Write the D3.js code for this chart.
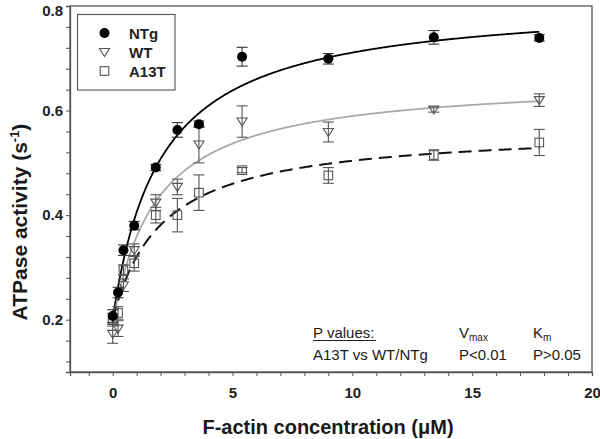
<!DOCTYPE html>
<html><head><meta charset="utf-8">
<script src="https://cdn.jsdelivr.net/npm/d3@7"></script>
<style>
html,body{margin:0;padding:0;background:#fff;}
svg{display:block;font-family:"Liberation Sans",Arial,Helvetica,sans-serif;}
</style></head>
<body><svg id="chart" width="600" height="439"></svg>
<script>
// ---- data ----
const concentrations = [0, 0.225, 0.45, 0.9, 1.8, 2.7, 3.6, 5.4, 9, 13.4, 17.8];
const seriesNames = ["NTg", "WT", "A13T"];
const ntgValues  = [0.207, 0.252, 0.333, 0.380, 0.491, 0.563, 0.574, 0.703, 0.699, 0.740, 0.739];
const ntgErrors  = [0.012, 0.010, 0.010, 0.008, 0.006, 0.014, 0.006, 0.018, 0.010, 0.013, 0.006];
const wtValues   = [0.173, 0.183, 0.266, 0.333, 0.424, 0.454, 0.535, 0.579, 0.559, 0.602, 0.620];
const wtErrors   = [0.018, 0.015, 0.012, 0.012, 0.015, 0.015, 0.035, 0.030, 0.019, 0.005, 0.012];
const a13tValues = [0.200, 0.213, 0.295, 0.308, 0.400, 0.400, 0.443, 0.486, 0.476, 0.515, 0.539];
const a13tErrors = [0.012, 0.012, 0.010, 0.015, 0.015, 0.032, 0.034, 0.005, 0.015, 0.010, 0.025];
// Michaelis-Menten fit parameters per series: baseline, Vmax, Km
const fitBaseline = [0.200, 0.190, 0.200];
const fitVmax     = [0.612, 0.471, 0.366];
const fitKm       = [1.98, 1.79, 2.04];
const xTickLabels = [0, 5, 10, 15, 20];
const yTickLabels = [0.2, 0.4, 0.6, 0.8];
const xMinorTicks = d3.range(-1, 21, 1);
const yMinorTicks = d3.range(0.12, 0.801, 0.04).map(v => +v.toFixed(2));

// ---- layout ----
const svg = d3.select("#chart");
const L = 70, R = 592, T = 6, B = 372;
const x = d3.scaleLinear().domain([-1.78, 20]).range([L, R]);
const y = d3.scaleLinear().domain([0.1, 0.8]).range([B, T]);
const axisColor = "#555";

// frame
svg.append("rect").attr("x", L).attr("y", T).attr("width", R - L).attr("height", B - T)
  .attr("fill", "none").attr("stroke", axisColor).attr("stroke-width", 1.3);

// axes
const xAxis = d3.axisBottom(x).tickValues(xMinorTicks).tickSize(4).tickPadding(11)
  .tickFormat(d => xTickLabels.includes(d) ? String(d) : "");
const gx = svg.append("g").attr("transform", `translate(0,${B})`).call(xAxis);
const yAxis = d3.axisLeft(y).tickValues(yMinorTicks).tickSize(4).tickPadding(3)
  .tickFormat(d => yTickLabels.some(v => Math.abs(v - d) < 1e-6) ? d.toFixed(1) : "");
const gy = svg.append("g").attr("transform", `translate(${L},0)`).call(yAxis);
[gx, gy].forEach(g => {
  g.select(".domain").attr("stroke", axisColor).attr("stroke-width", 1.3);
  g.selectAll(".tick line").attr("stroke", axisColor).attr("stroke-width", 1);
  g.selectAll(".tick text").attr("fill", "#222").attr("font-size", 15).attr("font-weight", "bold")
    .attr("font-family", "Liberation Sans, Arial, sans-serif");
});
// keep the top label fully inside the picture
gy.selectAll(".tick text").filter(d => Math.abs(d - 0.8) < 1e-6).attr("dy", "0.62em");

// axis titles
svg.append("text").attr("x", 328).attr("y", 434).attr("text-anchor", "middle")
  .attr("font-size", 20).attr("font-weight", "bold").attr("fill", "#1a1a1a")
  .text("F-actin concentration (\u03BCM)");
const yt = svg.append("text").attr("transform", "translate(27,222) rotate(-90)")
  .attr("text-anchor", "middle").attr("font-size", 21).attr("font-weight", "bold").attr("fill", "#1a1a1a");
yt.append("tspan").text("ATPase activity (s");
yt.append("tspan").attr("font-size", 13).attr("dy", -8).text("-1");
yt.append("tspan").attr("dy", 8).text(")");

// fitted curves
const curveX = d3.range(0, 17.81, 0.05);
const curveStyles = [
  {stroke: "#000", dash: null, width: 1.8},
  {stroke: "#aaa", dash: null, width: 1.8},
  {stroke: "#111", dash: "13,7", width: 2}
];
seriesNames.forEach((name, i) => {
  const line = d3.line().x(d => x(d)).y(d => y(fitBaseline[i] + fitVmax[i] * d / (fitKm[i] + d)));
  svg.append("path").datum(curveX).attr("d", line).attr("fill", "none")
    .attr("stroke", curveStyles[i].stroke).attr("stroke-width", curveStyles[i].width)
    .attr("stroke-dasharray", curveStyles[i].dash);
});

// error bars + markers
const seriesData = [
  {vals: ntgValues, errs: ntgErrors, color: "#333"},
  {vals: wtValues, errs: wtErrors, color: "#555"},
  {vals: a13tValues, errs: a13tErrors, color: "#555"}
];
function drawMarker(g, type, cx, cy, color) {
  if (type === 0) {
    g.append("circle").attr("cx", cx).attr("cy", cy).attr("r", 5).attr("fill", "#000");
  } else if (type === 1) {
    const s = 5;
    g.append("path").attr("d", `M${cx - s},${cy - s * 0.7}L${cx + s},${cy - s * 0.7}L${cx},${cy + s * 0.9}Z`)
      .attr("fill", "none").attr("stroke", color).attr("stroke-width", 1.1);
  } else {
    g.append("rect").attr("x", cx - 4.3).attr("y", cy - 4.3).attr("width", 8.6).attr("height", 8.6)
      .attr("fill", "none").attr("stroke", color).attr("stroke-width", 1.1);
  }
}
const order = [2, 1, 0];
order.forEach(i => {
  const s = seriesData[i];
  const g = svg.append("g");
  concentrations.forEach((c, k) => {
    const cx = x(c), y1 = y(s.vals[k] + s.errs[k]), y0 = y(s.vals[k] - s.errs[k]);
    g.append("line").attr("x1", cx).attr("x2", cx).attr("y1", y1).attr("y2", y0)
      .attr("stroke", s.color).attr("stroke-width", 1.1);
    [y1, y0].forEach(yy => g.append("line").attr("x1", cx - 5.5).attr("x2", cx + 5.5)
      .attr("y1", yy).attr("y2", yy).attr("stroke", s.color).attr("stroke-width", 1.1));
    drawMarker(g, i, cx, y(s.vals[k]), s.color);
  });
});

// legend
svg.append("rect").attr("x", 77.5).attr("y", 14.5).attr("width", 97.5).attr("height", 75.5)
  .attr("fill", "#fff").attr("stroke", "#555").attr("stroke-width", 1.1);
seriesNames.forEach((name, i) => {
  const ly = 33 + i * 19;
  drawMarker(svg, i, 104.5, ly, "#555");
  svg.append("text").attr("x", 129).attr("y", ly + 5.5).attr("font-size", 15).attr("font-weight", "bold")
    .attr("fill", "#222").text(name);
});

// annotation
const ann = svg.append("g").attr("font-size", 15).attr("fill", "#1a1a1a");
ann.append("text").attr("x", 313).attr("y", 338).text("P values:");
svg.append("line").attr("x1", 313).attr("x2", 376).attr("y1", 340.5).attr("y2", 340.5)
  .attr("stroke", "#222").attr("stroke-width", 1);
ann.append("text").attr("x", 313).attr("y", 360).text("A13T vs WT/NTg");
const vt = ann.append("text").attr("x", 459).attr("y", 338);
vt.append("tspan").text("V");
vt.append("tspan").attr("font-size", 10).attr("dy", 3).text("max");
const kt = ann.append("text").attr("x", 533).attr("y", 338);
kt.append("tspan").text("K");
kt.append("tspan").attr("font-size", 10).attr("dy", 3).text("m");
ann.append("text").attr("x", 459).attr("y", 360).text("P<0.01");
ann.append("text").attr("x", 533).attr("y", 360).text("P>0.05");
</script></body></html>
